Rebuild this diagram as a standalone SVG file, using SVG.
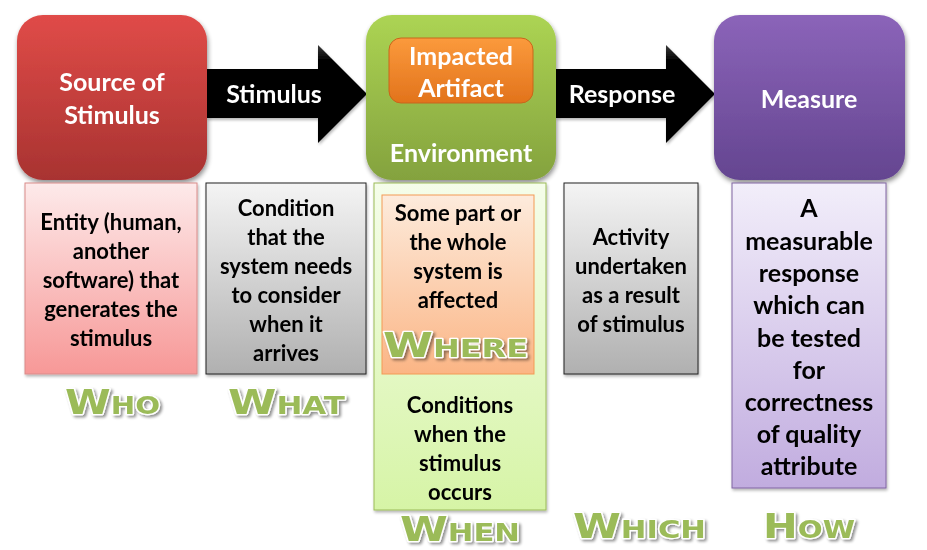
<svg xmlns="http://www.w3.org/2000/svg" width="927" height="550" viewBox="0 0 927 550">
  <defs>
    <linearGradient id="gRed" x1="0" y1="0" x2="0" y2="1">
      <stop offset="0" stop-color="#e04b48"/>
      <stop offset="1" stop-color="#a83331"/>
    </linearGradient>
    <linearGradient id="gGreen" x1="0" y1="0" x2="0" y2="1">
      <stop offset="0" stop-color="#acd453"/>
      <stop offset="1" stop-color="#84a23e"/>
    </linearGradient>
    <linearGradient id="gPurple" x1="0" y1="0" x2="0" y2="1">
      <stop offset="0" stop-color="#8b64b9"/>
      <stop offset="1" stop-color="#644590"/>
    </linearGradient>
    <linearGradient id="gOrange" x1="0" y1="0" x2="0" y2="1">
      <stop offset="0" stop-color="#fb9a3c"/>
      <stop offset="1" stop-color="#e2731c"/>
    </linearGradient>
    <linearGradient id="gArrow" x1="0" y1="0" x2="0" y2="1">
      <stop offset="0" stop-color="#3a3a3a"/>
      <stop offset="0.15" stop-color="#050505"/>
      <stop offset="1" stop-color="#000"/>
    </linearGradient>
    <linearGradient id="gPink" x1="0" y1="0" x2="0" y2="1">
      <stop offset="0" stop-color="#fdeaea"/>
      <stop offset="1" stop-color="#f79897"/>
    </linearGradient>
    <linearGradient id="gGray" x1="0" y1="0" x2="0" y2="1">
      <stop offset="0" stop-color="#f4f4f4"/>
      <stop offset="1" stop-color="#b0b0b0"/>
    </linearGradient>
    <linearGradient id="gLime" x1="0" y1="0" x2="0" y2="1">
      <stop offset="0" stop-color="#f5fdea"/>
      <stop offset="1" stop-color="#d6f4a6"/>
    </linearGradient>
    <linearGradient id="gPeach" x1="0" y1="0" x2="0" y2="1">
      <stop offset="0" stop-color="#fdebdc"/>
      <stop offset="1" stop-color="#fbb585"/>
    </linearGradient>
    <linearGradient id="gLilac" x1="0" y1="0" x2="0" y2="1">
      <stop offset="0" stop-color="#f2eefa"/>
      <stop offset="1" stop-color="#c1acdf"/>
    </linearGradient>
    <filter id="shadow" x="-10%" y="-10%" width="130%" height="130%">
      <feGaussianBlur in="SourceAlpha" stdDeviation="2.5"/>
      <feOffset dx="1" dy="3" result="b"/>
      <feComponentTransfer><feFuncA type="linear" slope="0.45"/></feComponentTransfer>
      <feMerge><feMergeNode/><feMergeNode in="SourceGraphic"/></feMerge>
    </filter>
    <filter id="soft" x="-10%" y="-10%" width="130%" height="130%">
      <feGaussianBlur in="SourceAlpha" stdDeviation="1.5"/>
      <feOffset dx="1" dy="2"/>
      <feComponentTransfer><feFuncA type="linear" slope="0.3"/></feComponentTransfer>
      <feMerge><feMergeNode/><feMergeNode in="SourceGraphic"/></feMerge>
    </filter>
    <filter id="wordShadow" x="-10%" y="-20%" width="130%" height="150%">
      <feGaussianBlur in="SourceAlpha" stdDeviation="1.5"/>
      <feOffset dx="2" dy="2"/>
      <feComponentTransfer><feFuncA type="linear" slope="0.45"/></feComponentTransfer>
      <feMerge><feMergeNode/><feMergeNode in="SourceGraphic"/></feMerge>
    </filter>
  </defs>
  <style>
    .head { font-family: Lato, "Open Sans", "Liberation Sans", sans-serif; font-weight: bold; font-size: 25px; fill: #fff; text-anchor: middle; }
    .body { font-family: Lato, "Open Sans", "Liberation Sans", sans-serif; font-weight: bold; font-size: 22px; fill: #000; text-anchor: middle; }
    .big { font-size: 25px; }
    .word { font-family: "DejaVu Sans", "Liberation Sans", sans-serif; font-weight: bold; fill: #9bbb59; stroke: #fff; stroke-width: 2.5; paint-order: stroke; stroke-linejoin: round; filter: url(#wordShadow); font-size: 24px; }
    .cap { font-size: 34px; }
  </style>

  <!-- connectors: block arrows between the stages -->
  <g id="connectors">
    <g id="arrow-stimulus" filter="url(#soft)">
      <path d="M207 69 H318 V45 L367 94 L318 143 V118 H207 Z" fill="url(#gArrow)"/>
      <text class="head" x="274" y="103">Stimulus</text>
    </g>
    <g id="arrow-response" filter="url(#soft)">
      <path d="M556 69 H666 V45 L715 94 L666 143 V118 H556 Z" fill="url(#gArrow)"/>
      <text class="head" x="622" y="103">Response</text>
    </g>
  </g>

  <!-- top row stages -->
  <g id="source" filter="url(#shadow)">
    <rect x="17" y="15" width="190" height="165" rx="26" fill="url(#gRed)"/>
    <text class="head" x="112" y="91">Source of</text>
    <text class="head" x="112" y="124">Stimulus</text>
  </g>

  <g id="environment" filter="url(#shadow)">
    <rect x="366" y="15" width="190" height="165" rx="26" fill="url(#gGreen)"/>
    <g id="artifact">
      <rect x="389" y="38" width="144" height="65" rx="12" fill="url(#gOrange)" stroke="#c8661a" stroke-width="1"/>
      <text class="head" x="461" y="65">Impacted</text>
      <text class="head" x="461" y="97">Artifact</text>
    </g>
    <text class="head" x="461" y="162">Environment</text>
  </g>

  <g id="measure" filter="url(#shadow)">
    <rect x="714" y="15" width="191" height="165" rx="26" fill="url(#gPurple)"/>
    <text class="head" x="809" y="108">Measure</text>
  </g>

  <!-- description boxes -->
  <g id="who-box" filter="url(#soft)">
    <rect x="25" y="183" width="172" height="191" fill="url(#gPink)" stroke="#d98c8a" stroke-width="1"/>
    <text class="body" x="111" y="230">Entity (human,</text>
    <text class="body" x="111" y="259">another</text>
    <text class="body" x="111" y="288">software) that</text>
    <text class="body" x="111" y="317">generates the</text>
    <text class="body" x="111" y="346">stimulus</text>
  </g>

  <g id="what-box" filter="url(#soft)">
    <rect x="206" y="183" width="160" height="191" fill="url(#gGray)" stroke="#222" stroke-width="1"/>
    <text class="body" x="286" y="216">Condition</text>
    <text class="body" x="286" y="245">that the</text>
    <text class="body" x="286" y="274">system needs</text>
    <text class="body" x="286" y="303">to consider</text>
    <text class="body" x="286" y="332">when it</text>
    <text class="body" x="286" y="361">arrives</text>
  </g>

  <g id="when-box" filter="url(#soft)">
    <rect x="374" y="183" width="172" height="327" fill="url(#gLime)" stroke="#9bbb59" stroke-width="1"/>
    <g id="where-box">
      <rect x="382" y="195" width="152" height="179" fill="url(#gPeach)" stroke="#f39a55" stroke-width="1"/>
      <text class="body" x="458" y="221">Some part or</text>
      <text class="body" x="458" y="250">the whole</text>
      <text class="body" x="458" y="279">system is</text>
      <text class="body" x="458" y="308">affected</text>
    </g>
    <text class="body" x="460" y="413">Conditions</text>
    <text class="body" x="460" y="442">when the</text>
    <text class="body" x="460" y="471">stimulus</text>
    <text class="body" x="460" y="500">occurs</text>
  </g>

  <g id="which-box" filter="url(#soft)">
    <rect x="564" y="183" width="134" height="191" fill="url(#gGray)" stroke="#222" stroke-width="1"/>
    <text class="body" x="631" y="245">Activity</text>
    <text class="body" x="631" y="274">undertaken</text>
    <text class="body" x="631" y="303">as a result</text>
    <text class="body" x="631" y="332">of stimulus</text>
  </g>

  <g id="how-box" filter="url(#soft)">
    <rect x="732" y="183" width="154" height="305" fill="url(#gLilac)" stroke="#8064a2" stroke-width="1"/>
    <text class="body big" x="809" y="217">A</text>
    <text class="body big" x="809" y="250">measurable</text>
    <text class="body big" x="809" y="282">response</text>
    <text class="body big" x="809" y="314">which can</text>
    <text class="body big" x="809" y="347">be tested</text>
    <text class="body big" x="809" y="379">for</text>
    <text class="body big" x="809" y="411">correctness</text>
    <text class="body big" x="809" y="443">of quality</text>
    <text class="body big" x="809" y="475">attribute</text>
  </g>

  <!-- question words, stretched small caps -->
  <g id="labels">
    <text class="word" x="65" y="414" textLength="95" lengthAdjust="spacingAndGlyphs"><tspan class="cap">W</tspan>HO</text>
    <text class="word" x="228" y="414" textLength="117" lengthAdjust="spacingAndGlyphs"><tspan class="cap">W</tspan>HAT</text>
    <text class="word" x="383" y="357" textLength="145" lengthAdjust="spacingAndGlyphs"><tspan class="cap">W</tspan>HERE</text>
    <text class="word" x="400" y="541" textLength="120" lengthAdjust="spacingAndGlyphs"><tspan class="cap">W</tspan>HEN</text>
    <text class="word" x="573" y="538" textLength="133" lengthAdjust="spacingAndGlyphs"><tspan class="cap">W</tspan>HICH</text>
    <text class="word" x="763" y="538" textLength="92" lengthAdjust="spacingAndGlyphs"><tspan class="cap">H</tspan>OW</text>
  </g>
</svg>
